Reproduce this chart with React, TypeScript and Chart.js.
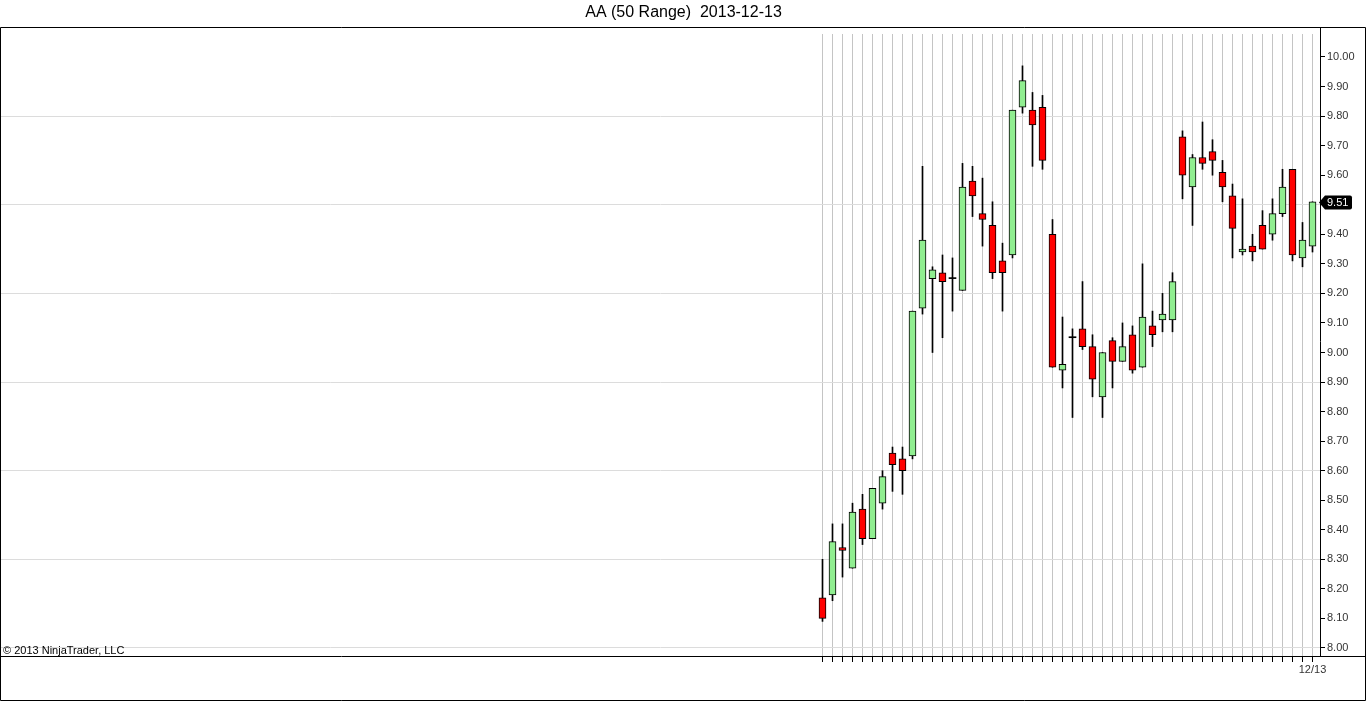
import { useEffect, useRef } from 'react';
import { Chart, registerables } from 'chart.js';

Chart.register(...registerables);

const chartTitle = 'AA (50 Range)  2013-12-13';
const copyrightText = '\u00A9 2013 NinjaTrader, LLC';
const lastDateLabel = '12/13';

const opens = [
  8.17, 8.18, 8.34, 8.27, 8.47, 8.37, 8.49, 8.66, 8.64, 8.65,
  9.15, 9.25, 9.27, 9.25, 9.21, 9.58, 9.47, 9.43, 9.31, 9.33,
  9.83, 9.82, 9.83, 9.40, 8.94, 9.05, 9.08, 9.02, 8.85, 9.04,
  8.97, 9.06, 8.95, 9.09, 9.11, 9.11, 9.73, 9.56, 9.66, 9.68,
  9.61, 9.53, 9.34, 9.36, 9.43, 9.40, 9.47, 9.62, 9.32, 9.36,
];
const highs = [
  8.30, 8.42, 8.42, 8.49, 8.52, 8.54, 8.60, 8.68, 8.68, 9.14,
  9.63, 9.29, 9.33, 9.32, 9.64, 9.63, 9.59, 9.51, 9.37, 9.82,
  9.97, 9.88, 9.87, 9.45, 9.12, 9.08, 9.24, 9.06, 9.00, 9.05,
  9.10, 9.09, 9.30, 9.14, 9.20, 9.27, 9.75, 9.67, 9.78, 9.72,
  9.65, 9.57, 9.52, 9.40, 9.48, 9.52, 9.62, 9.62, 9.44, 9.51,
];
const lows = [
  8.09, 8.16, 8.24, 8.27, 8.35, 8.37, 8.47, 8.53, 8.52, 8.64,
  9.13, 9.00, 9.05, 9.14, 9.21, 9.46, 9.36, 9.25, 9.14, 9.32,
  9.81, 9.63, 9.62, 8.95, 8.88, 8.78, 9.01, 8.85, 8.78, 8.88,
  8.97, 8.93, 8.95, 9.02, 9.07, 9.07, 9.52, 9.43, 9.62, 9.60,
  9.51, 9.32, 9.33, 9.31, 9.35, 9.38, 9.46, 9.31, 9.29, 9.34,
];
const closes = [
  8.10, 8.36, 8.33, 8.46, 8.37, 8.54, 8.58, 8.62, 8.60, 9.14,
  9.38, 9.28, 9.24, 9.25, 9.56, 9.53, 9.45, 9.27, 9.27, 9.82,
  9.92, 9.77, 9.65, 8.95, 8.96, 9.05, 9.02, 8.91, 9.00, 8.97,
  9.02, 8.94, 9.12, 9.06, 9.13, 9.24, 9.60, 9.66, 9.64, 9.65,
  9.56, 9.42, 9.35, 9.34, 9.35, 9.47, 9.56, 9.33, 9.38, 9.51,
];
const yTickValues = [
  8.0, 8.1, 8.2, 8.3, 8.4, 8.5, 8.6, 8.7, 8.8, 8.9,
  9.0, 9.1, 9.2, 9.3, 9.4, 9.5, 9.6, 9.7, 9.8, 9.9, 10.0,
];
const yGridStart = 8.0;
const yGridStep = 0.3;

const UP_COLOR = '#90ee90';
const DOWN_COLOR = '#ff0000';
const FONT = "'Liberation Sans', Arial, sans-serif";

export default function App() {
  const ref = useRef<HTMLCanvasElement>(null);

  useEffect(() => {
    const canvas = ref.current;
    if (!canvas) return;
    const n = opens.length;
    const idx = opens.map((_, i) => i);
    const bodyIdx = idx.filter((i) => opens[i] !== closes[i]);
    const dojiIdx = idx.filter((i) => opens[i] === closes[i]);

    const bodyData = bodyIdx.map((i) => ({ x: i, y: [opens[i], closes[i]] }));
    const bodyColors = bodyIdx.map((i) => (closes[i] > opens[i] ? UP_COLOR : DOWN_COLOR));
    const dojiData = dojiIdx.map((i) => ({ x: i, y: [opens[i], closes[i]] }));
    const wickData = idx.map((i) => ({ x: i, y: [lows[i], highs[i]] }));

    const framePlugin = {
      id: 'frame',
      afterDraw(chart: any) {
        const { ctx } = chart;
        const yScale = chart.scales.y;
        ctx.save();
        ctx.strokeStyle = '#000';
        ctx.lineWidth = 1;
        ctx.beginPath();
        ctx.rect(0.5, 27.5, 1365, 673);
        ctx.moveTo(0, 656.5);
        ctx.lineTo(1366, 656.5);
        ctx.moveTo(1320.5, 27);
        ctx.lineTo(1320.5, 656);
        ctx.stroke();

        ctx.fillStyle = '#000';
        ctx.font = `11px ${FONT}`;
        ctx.textBaseline = 'alphabetic';
        ctx.textAlign = 'left';
        ctx.fillText(copyrightText, 3, 654);

        const last = closes[n - 1];
        const py = Math.round(yScale.getPixelForValue(last)) + 0.5;
        ctx.beginPath();
        ctx.moveTo(1319, py);
        ctx.lineTo(1325, py - 7);
        ctx.lineTo(1350, py - 7);
        ctx.quadraticCurveTo(1352, py - 7, 1352, py - 5);
        ctx.lineTo(1352, py + 5);
        ctx.quadraticCurveTo(1352, py + 7, 1350, py + 7);
        ctx.lineTo(1325, py + 7);
        ctx.closePath();
        ctx.fillStyle = '#000';
        ctx.fill();
        ctx.fillStyle = '#fff';
        ctx.font = `11px ${FONT}`;
        ctx.textBaseline = 'middle';
        ctx.fillText(last.toFixed(2), 1327, py + 0.5);
        ctx.restore();
      },
    };

    const yMax = 10.0778;
    const yMin = 7.9729;

    const chart = new Chart(canvas, {
      type: 'bar',
      data: {
        datasets: [
          {
            type: 'bar',
            data: bodyData as any,
            backgroundColor: bodyColors,
            borderColor: '#000',
            borderWidth: 1,
            borderSkipped: false,
            barThickness: 7,
            grouped: false,
          } as any,
          {
            type: 'bar',
            data: dojiData as any,
            backgroundColor: '#000',
            borderWidth: 0,
            barThickness: 7,
            minBarLength: 1,
            grouped: false,
          } as any,
          {
            type: 'bar',
            data: wickData as any,
            backgroundColor: '#000',
            borderWidth: 0,
            barThickness: 1,
            grouped: false,
          } as any,
        ],
      },
      options: {
        responsive: false,
        animation: false,
        devicePixelRatio: 1,
        layout: { padding: { left: 1, right: 0, top: 0, bottom: 0 } },
        plugins: {
          legend: { display: false },
          tooltip: { enabled: false },
          title: {
            display: true,
            text: chartTitle,
            color: '#000',
            font: { family: FONT, size: 16, weight: 'normal', lineHeight: 1.2 },
            padding: { top: 3, bottom: 11.8 },
          },
        },
        scales: {
          x: {
            type: 'linear',
            offset: false,
            min: -82.15,
            max: 49.75,
            afterBuildTicks: (s: any) => {
              s.ticks = idx.map((v) => ({ value: v }));
            },
            afterFit: (s: any) => {
              s.height = 46;
              s.paddingLeft = 0;
              s.paddingRight = 0;
            },
            grid: { offset: false, color: '#c4c4c4', tickColor: '#000', tickLength: 6 },
            border: { display: false },
            ticks: {
              autoSkip: false,
              maxRotation: 0,
              padding: 1,
              color: '#333',
              font: { family: FONT, size: 11 },
              callback: (v: any) => (v === n - 1 ? lastDateLabel : ''),
            },
          },
          y: {
            type: 'linear',
            position: 'right',
            min: yMin,
            max: yMax,
            afterBuildTicks: (s: any) => {
              s.ticks = yTickValues.map((v) => ({ value: v }));
            },
            afterFit: (s: any) => {
              s.width = 46;
            },
            grid: {
              color: (c: any) => {
                const v = c.tick ? c.tick.value : 0;
                const k = (v - yGridStart) / yGridStep;
                return Math.abs(k - Math.round(k)) < 1e-6 ? '#dcdcdc' : 'rgba(0,0,0,0)';
              },
              tickColor: '#000',
              tickLength: 5,
            },
            border: { display: false },
            ticks: {
              padding: 2,
              color: '#333',
              font: { family: FONT, size: 11 },
              callback: (v: any) => Number(v).toFixed(2),
            },
          },
        },
      } as any,
      plugins: [framePlugin],
    });

    return () => chart.destroy();
  }, []);

  return (
    <div style={{ position: 'absolute', left: 0, top: 0, width: 1366, height: 702, background: '#fff' }}>
      <canvas ref={ref} width={1366} height={702} style={{ display: 'block' }} />
    </div>
  );
}
